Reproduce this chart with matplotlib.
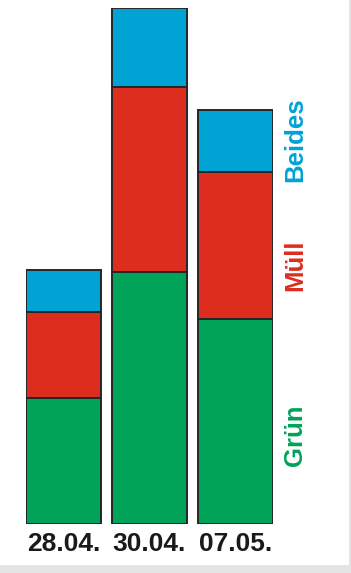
import matplotlib.pyplot as plt
from matplotlib.patches import Rectangle

# Values (stacked heights, arbitrary units)
dates = ["28.04.", "30.04.", "07.05."]
gruen = [126, 252, 205]
muell = [86, 185, 147]
beides = [42, 79, 62]

categories = ["Grün", "Müll", "Beides"]
colors = ["#00a358", "#dc2d1e", "#00a3d4"]

W, H = 351, 573
fig = plt.figure(figsize=(W / 100, H / 100), dpi=100)
fig.patch.set_facecolor("#e4e4e4")
# white panel of the photographed sheet
fig.patches.append(Rectangle((0, 8 / H), 349 / W, 1 - 8 / H,
                             transform=fig.transFigure, facecolor="white",
                             edgecolor="none", zorder=-5))

ax = fig.add_axes([26 / W, 49 / H, 247 / W, 516 / H])
ax.set_zorder(2)
ax.set_facecolor("none")
x = list(range(len(dates)))
width = 75 / 86

bottom = [0, 0, 0]
for vals, color in zip([gruen, muell, beides], colors):
    ax.bar(x, vals, width=width, bottom=bottom, color=color,
           edgecolor="#262626", linewidth=1.4)
    bottom = [b + v for b, v in zip(bottom, vals)]

ax.set_xlim(-width / 2, len(dates) - 1 + width / 2)
ax.set_ylim(0, 516)
for s in ax.spines.values():
    s.set_visible(False)
ax.set_yticks([])
ax.set_xticks(x)
ax.set_xticklabels(dates, fontfamily="Liberation Sans", fontweight="bold",
                   fontsize=19, color="#1a1a1a")
ax.tick_params(axis="x", length=0, pad=6)

# rotated category labels on the right
label_y = [435, 265, 140]
for name, color, yy in zip(categories, colors, label_y):
    fig.text(295 / W, 1 - yy / H, name, rotation=90, ha="center", va="center",
             fontfamily="Liberation Sans", fontweight="bold", fontsize=18.5,
             color=color, zorder=3)

fig.savefig("out.png", dpi=100)
